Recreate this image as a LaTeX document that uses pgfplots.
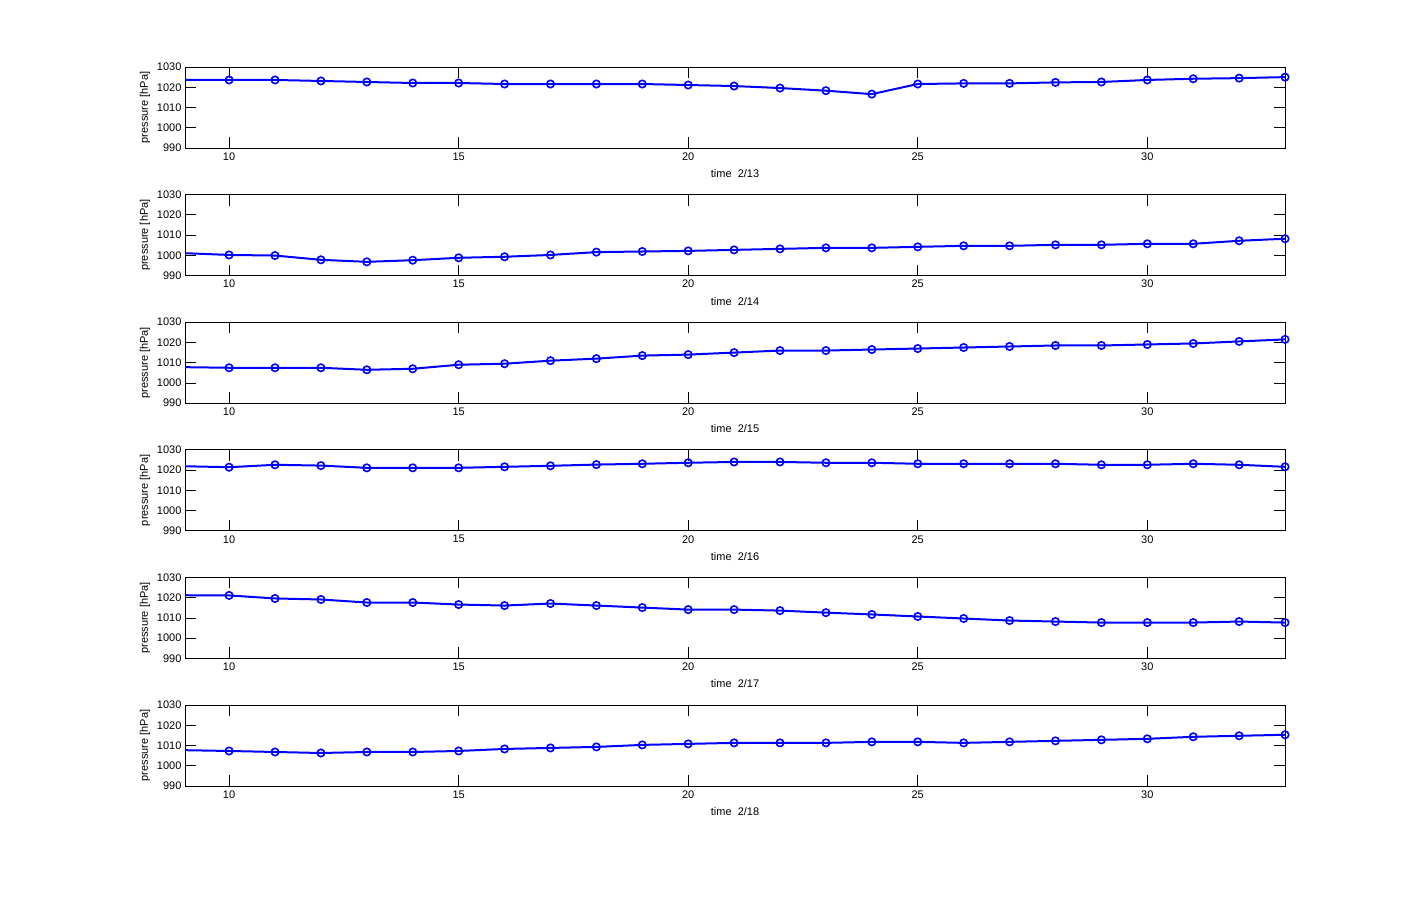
\documentclass[border=0pt]{standalone}
\usepackage{pgfplots}
\usepackage{pgfplotstable}
\pgfplotsset{compat=1.18}
\usepackage{fontspec}
\setmainfont{Liberation Sans}

% hourly pressure, one column per day
\pgfplotstableread{
x  p13    p14    p15    p16    p17    p18
9  1023.7 1001.1 1007.8 1021.9 1021.2 1007.7
10 1023.6 1000.2 1007.5 1021.4 1021.1 1007.3
11 1023.6 999.9  1007.5 1022.6 1019.6 1006.8
12 1023.1 997.8  1007.5 1022.2 1019.1 1006.3
13 1022.6 996.8  1006.5 1021.1 1017.6 1006.8
14 1022.1 997.6  1007.0 1021.1 1017.6 1006.8
15 1022.1 998.8  1009.0 1021.1 1016.6 1007.3
16 1021.6 999.3  1009.5 1021.6 1016.1 1008.3
17 1021.6 1000.2 1011.0 1022.1 1017.1 1008.8
18 1021.6 1001.6 1012.0 1022.7 1016.1 1009.3
19 1021.6 1001.9 1013.5 1023.1 1015.1 1010.3
20 1021.1 1002.2 1014.0 1023.6 1014.1 1010.8
21 1020.6 1002.7 1015.0 1024.0 1014.1 1011.3
22 1019.6 1003.2 1016.0 1024.0 1013.6 1011.3
23 1018.3 1003.7 1016.0 1023.6 1012.6 1011.3
24 1016.6 1003.7 1016.5 1023.6 1011.7 1011.8
25 1021.6 1004.2 1017.0 1023.1 1010.7 1011.8
26 1021.9 1004.7 1017.5 1023.1 1009.7 1011.3
27 1021.9 1004.7 1018.0 1023.1 1008.7 1011.8
28 1022.4 1005.2 1018.5 1023.1 1008.2 1012.3
29 1022.6 1005.2 1018.5 1022.6 1007.7 1012.8
30 1023.6 1005.7 1019.0 1022.6 1007.7 1013.3
31 1024.2 1005.7 1019.5 1023.1 1007.7 1014.3
32 1024.5 1007.2 1020.5 1022.6 1008.2 1014.8
33 1025.0 1008.2 1021.5 1021.6 1007.7 1015.3
}\data

\pgfplotsset{
    panel/.style={
        scale only axis,
        width=1100pt, height=81pt,
        anchor=north west,
        xmin=9.04, xmax=33,
        ymin=990, ymax=1030,
        xtick={10,15,...,30},
        ytick={990,1000,...,1030},
        tick align=inside,
        major tick length=11pt,
        axis line style={line width=0.8pt},
        every tick/.style={black, line width=0.8pt},
        /pgf/number format/1000 sep={},
        /pgf/number format/assume math mode=true,
        tick label style={font=\fontsize{11}{13}\selectfont},
        xticklabel style={yshift=-1pt},
        label style={font=\fontsize{11}{13}\selectfont},
        ylabel={pressure [hPa]},
        ylabel style={at={(axis description cs:-0.0364,0.5)}, anchor=center},
        xlabel style={at={(axis description cs:0.5,-0.315)}, anchor=center},
    },
    pline/.style={color={rgb,255:red,0;green,0;blue,255}, line width=2pt, no marks},
    pmark/.style={color={rgb,255:red,0;green,0;blue,255}, only marks, mark=o,
        mark size=3.7pt, line width=1.6pt, restrict x to domain=9.5:33.5},
}

\begin{document}
\begin{tikzpicture}
\path[use as bounding box] (0pt,0pt) rectangle (1420pt,-896pt);

\begin{axis}[panel, at={(185pt,-67pt)}, xlabel={time~~2/13}]
    \addplot[pline] table[y=p13] {\data};
    \addplot[pmark] table[y=p13] {\data};
\end{axis}

\begin{axis}[panel, at={(185pt,-194.6pt)}, xlabel={time~~2/14}]
    \addplot[pline] table[y=p14] {\data};
    \addplot[pmark] table[y=p14] {\data};
\end{axis}

\begin{axis}[panel, at={(185pt,-322.2pt)}, xlabel={time~~2/15}]
    \addplot[pline] table[y=p15] {\data};
    \addplot[pmark] table[y=p15] {\data};
\end{axis}

\begin{axis}[panel, at={(185pt,-449.8pt)}, xlabel={time~~2/16}]
    \addplot[pline] table[y=p16] {\data};
    \addplot[pmark] table[y=p16] {\data};
\end{axis}

\begin{axis}[panel, at={(185pt,-577.4pt)}, xlabel={time~~2/17}]
    \addplot[pline] table[y=p17] {\data};
    \addplot[pmark] table[y=p17] {\data};
\end{axis}

\begin{axis}[panel, at={(185pt,-705pt)}, xlabel={time~~2/18}]
    \addplot[pline] table[y=p18] {\data};
    \addplot[pmark] table[y=p18] {\data};
\end{axis}
\end{tikzpicture}
\end{document}
